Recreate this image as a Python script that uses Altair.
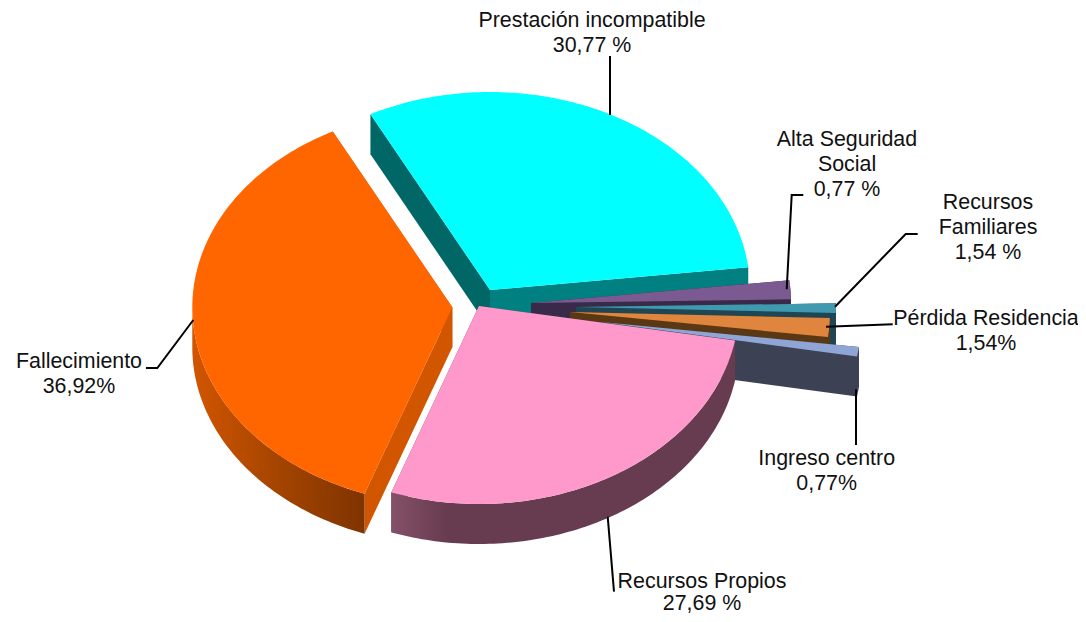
import math
import altair as alt
import pandas as pd

# --- chart values -----------------------------------------------------------
names = ["Prestación incompatible", "Fallecimiento", "Recursos Propios", "Ingreso centro",
         "Pérdida Residencia", "Recursos Familiares", "Alta Seguridad Social"]
# slice sizes as they are drawn in the picture
shares = [30.77, 36.92, 27.69, 0.77, 1.54, 0.77, 1.54]
label_texts = ["Prestación incompatible\n30,77 %", "Fallecimiento\n36,92%", "Recursos Propios\n27,69 %",
               "Ingreso centro\n0,77%", "Pérdida Residencia\n1,54%", "Recursos\nFamiliares\n1,54 %",
               "Alta Seguridad\nSocial\n0,77 %"]

# --- styles -----------------------------------------------------------------
top_colors = ["#00FFFF", "#FF6600", "#FF99CC", "#8FA5D5", "#E0853E", "#3F9AB0", "#7B5A91"]
wall_a = ["#008080", "#D25500", "#683C50", "#3C4254", "#5A3814", "#1F4654", "#3A2A4A"]
wall_b = ["#006666", "#D25500", "#683C50", "#3C4254", "#5A3814", "#1F4654", "#3A2A4A"]


def grad(*stops):
    return alt.Gradient(gradient="linear", x1=0, x2=1, y1=0, y2=0,
                        stops=[alt.GradientStop(color=c, offset=o) for o, c in stops])


side_fill = [
    None,
    grad((0, "#D25500"), (0.45, "#A84600"), (1, "#7F3300")),
    grad((0, "#855068"), (0.16, "#683C50"), (1, "#683C50")),
    "#3C4254", "#5A3814", "#1F4654", "#3A2A4A",
]

# --- layout (reference pixels) ----------------------------------------------
W, H = 1070, 606
OX, OY = 8, 8
RX, RY, DEPTH = 260, 198, 40
START_ANGLE = 6.6
apexes = [(490, 290), (452.3, 307.3), (479, 306), (601, 322), (570, 312), (576, 307), (531, 303)]
draw_order = [0, 6, 5, 4, 3, 1, 2]
label_at = [(592, 27), (79, 368), (702, 588), (826.7, 465), (986, 325), (988, 209), (847, 146)]
tight_label = 2  # this label sits at the page's lower edge and needs tighter lines
leaders = [
    [(610, 56), (610, 115)],
    [(146, 368), (157.3, 368), (193.3, 320)],
    [(614, 591.7), (607.7, 516.7)],
    [(856, 445), (856, 389.3)],
    [(892.7, 324.3), (826, 326.7)],
    [(917.7, 234), (905.7, 234), (835, 306.7)],
    [(803.3, 195), (791.7, 195), (786.7, 289.3)],
]

x_scale = alt.Scale(domain=[OX, OX + W], range=[0, W], nice=False, zero=False)
y_scale = alt.Scale(domain=[OY, OY + H], range=[0, H], nice=False, zero=False)


def xy(pts):
    return pd.DataFrame({"x": [p[0] for p in pts], "y": [p[1] for p in pts], "i": list(range(len(pts)))})


def enc(mark, pts):
    return alt.Chart(xy(pts)).mark_line(**mark).encode(
        x=alt.X("x:Q", scale=x_scale, axis=None),
        y=alt.Y("y:Q", scale=y_scale, axis=None),
        order=alt.Order("i:Q"),
    )


def poly(pts, fill):
    return enc(dict(fill=fill, strokeWidth=0, strokeOpacity=0), pts + [pts[0]])


def rim(apex, deg):
    a = math.radians(deg)
    return (apex[0] + RX * math.cos(a), apex[1] - RY * math.sin(a))


def arc(apex, a0, a1):
    n = max(2, int(abs(a1 - a0)) + 2)
    return [rim(apex, a0 + (a1 - a0) * k / (n - 1)) for k in range(n)]


def drop(pts):
    return [(p[0], p[1] + DEPTH) for p in pts]


# slice angles come from the shares
bounds = []
ang = START_ANGLE
for s in shares:
    bounds.append((ang, ang + s * 3.6))
    ang += s * 3.6

layers = []
for k in draw_order:
    apex = apexes[k]
    a0, a1 = bounds[k]
    # radial walls
    for deg, col in ((a0, wall_a[k]), (a1, wall_b[k])):
        e = rim(apex, deg)
        layers.append(poly([apex, e, (e[0], e[1] + DEPTH), (apex[0], apex[1] + DEPTH)], col))
    # outer rim
    if side_fill[k] is not None:
        s0 = max(a0, 180) if a0 < 180 else a0
        edge = arc(apex, s0, a1)
        layers.append(poly(edge + drop(edge)[::-1], side_fill[k]))
    # top face
    layers.append(poly([apex] + arc(apex, a0, a1), top_colors[k]))

for pts in leaders:
    layers.append(enc(dict(color="#000000", strokeWidth=2), pts))

labels = pd.DataFrame({
    "name": names,
    "text": label_texts,
    "x": [p[0] for p in label_at],
    "y": [p[1] for p in label_at],
})


def text_layer(df, line_height):
    return alt.Chart(df).mark_text(
        font="Liberation Sans", fontSize=21.4, lineBreak="\n", lineHeight=line_height,
        align="center", baseline="alphabetic", color="#111111",
    ).encode(
        x=alt.X("x:Q", scale=x_scale, axis=None),
        y=alt.Y("y:Q", scale=y_scale, axis=None),
        text="text:N",
    )


layers.append(text_layer(labels.drop(index=tight_label), 25))
layers.append(text_layer(labels.loc[[tight_label]], 22))

chart = alt.layer(*layers).properties(
    width=W, height=H, padding=0, background="white",
    autosize=alt.AutoSizeParams(type="none"),
).configure_view(stroke=None)

chart.save("out.html", embed_options={"renderer": "svg", "actions": False})
